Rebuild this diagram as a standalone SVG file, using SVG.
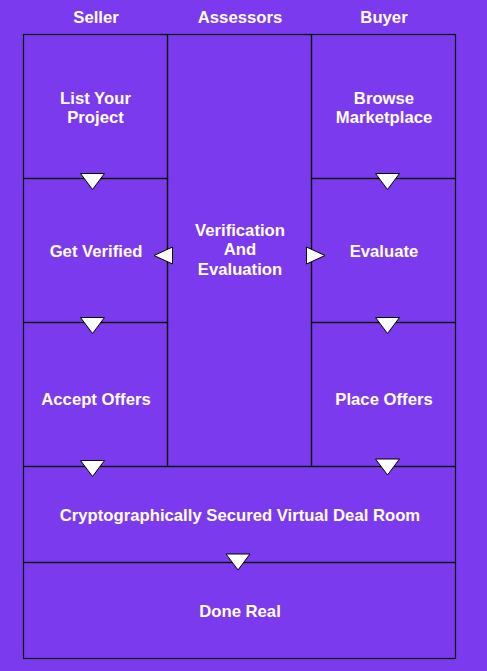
<svg xmlns="http://www.w3.org/2000/svg" width="487" height="671" viewBox="0 0 487 671">
<style>
.cell{fill:none;stroke:#000;stroke-width:1.2}
.t{font-family:"Liberation Sans",Arial,sans-serif;font-size:16.7px;font-weight:bold;fill:#fff;text-anchor:middle}
.arr{fill:#fff;stroke:#000;stroke-width:1}
</style>
<rect width="487" height="671" fill="#7C3AEE"/>
<g id="headers">
<text class="t" x="96" y="22.7">Seller</text>
<text class="t" x="240" y="22.7">Assessors</text>
<text class="t" x="384" y="22.7">Buyer</text>
</g>
<g id="list-your-project"><rect class="cell" x="23.5" y="34.5" width="144" height="144"/><text class="t" x="95.5" y="103.5">List Your</text><text class="t" x="95.5" y="122.5">Project</text></g>
<g id="get-verified"><rect class="cell" x="23.5" y="178.5" width="144" height="144"/><text class="t" x="96" y="256.5">Get Verified</text></g>
<g id="accept-offers"><rect class="cell" x="23.5" y="322.5" width="144" height="144"/><text class="t" x="96" y="405">Accept Offers</text></g>
<g id="verification"><rect class="cell" x="167.5" y="34.5" width="144" height="432"/><text class="t" x="240" y="236">Verification</text><text class="t" x="240" y="255.3">And</text><text class="t" x="240" y="274.6">Evaluation</text></g>
<g id="browse-marketplace"><rect class="cell" x="311.5" y="34.5" width="144" height="144"/><text class="t" x="384" y="103.5">Browse</text><text class="t" x="384" y="122.5">Marketplace</text></g>
<g id="evaluate"><rect class="cell" x="311.5" y="178.5" width="144" height="144"/><text class="t" x="384" y="256.5">Evaluate</text></g>
<g id="place-offers"><rect class="cell" x="311.5" y="322.5" width="144" height="144"/><text class="t" x="384" y="405">Place Offers</text></g>
<g id="deal-room"><rect class="cell" x="23.5" y="466.5" width="432" height="96"/><text class="t" x="240" y="521">Cryptographically Secured Virtual Deal Room</text></g>
<g id="done-real"><rect class="cell" x="23.5" y="562.5" width="432" height="96"/><text class="t" x="240" y="616.7">Done Real</text></g>
<g id="connectors">
<polygon class="arr" points="80.5,173.5 104.5,173.5 92.5,189.5"/>
<polygon class="arr" points="80.5,317.5 104.5,317.5 92.5,333.5"/>
<polygon class="arr" points="80.5,460.5 104.5,460.5 92.5,476.5"/>
<polygon class="arr" points="375.5,173.5 399.5,173.5 387.5,189.5"/>
<polygon class="arr" points="375.5,317.5 399.5,317.5 387.5,333.5"/>
<polygon class="arr" points="375.5,459 399.5,459 387.5,475"/>
<polygon class="arr" points="226,554 250,554 238,570"/>
<polygon class="arr" points="172.5,247 172.5,264 154,255.5"/>
<polygon class="arr" points="306.5,247 306.5,264 325,255.5"/>
</g>
</svg>
